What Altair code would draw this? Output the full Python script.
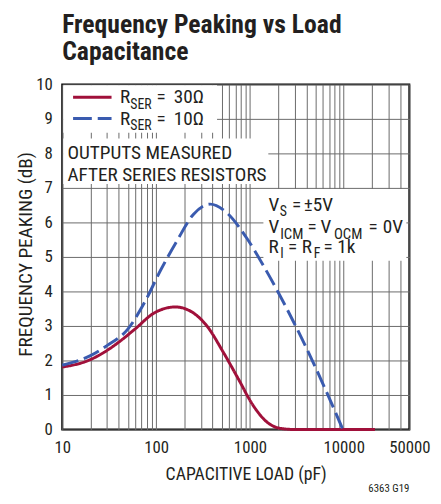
import altair as alt
import pandas as pd

FONT = "Roboto Condensed, DejaVu Sans Condensed, Liberation Sans, sans-serif"
TXT = "#231f20"
RED = "#a0103a"
BLUE = "#3a5baf"

title_lines = ["Frequency Peaking vs Load", "Capacitance"]
x_title = "CAPACITIVE LOAD (pF)"
y_title = "FREQUENCY PEAKING (dB)"

x_label_values = ["10", "100", "1000", "10000", "50000"]
x_grid_values = [10, 20, 30, 40, 50, 60, 70, 80, 90,
                 100, 200, 300, 400, 500, 600, 700, 800, 900,
                 1000, 2000, 3000, 4000, 5000, 6000, 7000, 8000, 9000,
                 10000, 20000, 30000, 40000, 50000]
y_values = [0, 1, 2, 3, 4, 5, 6, 7, 8, 9, 10]

series_names = ["RSER = 30Ω", "RSER = 10Ω"]

cap_30 = [10, 19, 30, 40, 59, 96, 161, 232, 348, 520, 748, 1075, 1482, 2048, 3000, 21500]
pk_30 = [1.81, 2.0, 2.29, 2.53, 2.9, 3.38, 3.55, 3.43, 3.0, 2.24, 1.48, 0.71, 0.24, 0.04, 0.0, 0.0]

cap_10 = [10, 20, 30, 50, 75, 112, 168, 251, 377, 562, 912, 1482, 2400, 3890, 6310, 9790]
pk_10 = [1.86, 2.14, 2.43, 2.91, 3.67, 4.62, 5.48, 6.24, 6.53, 6.29, 5.57, 4.62, 3.57, 2.43, 1.19, 0.0]

df = pd.concat([
    pd.DataFrame({"cap": cap_30, "pk": pk_30, "series": series_names[0]}),
    pd.DataFrame({"cap": cap_10, "pk": pk_10, "series": series_names[1]}),
])
one = pd.DataFrame({"k": [0]})

label_expr = "indexof(" + str(x_label_values) + ", datum.label) >= 0 ? datum.label : ''"

x_axis = alt.Axis(values=x_grid_values, format="d", labelExpr=label_expr,
                  grid=True, gridColor="#6a6a6a", gridWidth=1, ticks=False, domain=False,
                  labelPadding=10, labelFont=FONT, labelFontSize=17, labelColor=TXT,
                  labelOverlap=False, labelFlush=False, labelBound=False,
                  title=x_title, titleFont=FONT, titleFontSize=18, titleFontWeight="normal",
                  titleColor=TXT, titleX=186, titleY=51, titleBaseline="alphabetic",
                  titleAlign="center")
y_axis = alt.Axis(values=y_values, format="d",
                  grid=True, gridColor="#6a6a6a", gridWidth=1, ticks=False, domain=False,
                  labelPadding=10, labelFont=FONT, labelFontSize=17, labelColor=TXT,
                  title=y_title, titleFont=FONT, titleFontSize=19.5, titleFontWeight="normal",
                  titleColor=TXT, titleX=-31, titleY=172, titleAngle=-90,
                  titleAlign="center", titleBaseline="alphabetic")

lines = alt.Chart(df).mark_line(strokeWidth=3, interpolate="monotone").encode(
    x=alt.X("cap:Q", scale=alt.Scale(type="log", domain=[10, 50000], nice=False), axis=x_axis),
    y=alt.Y("pk:Q", scale=alt.Scale(domain=[0, 10], nice=False), axis=y_axis),
    color=alt.Color("series:N", scale=alt.Scale(domain=series_names, range=[RED, BLUE]), legend=None),
    strokeDash=alt.StrokeDash("series:N", scale=alt.Scale(domain=series_names, range=[[1, 0], [17, 6]]), legend=None),
)


def box(x1, x2, y1, y2):
    return alt.Chart(one).mark_rect(fill="white", stroke=None).encode(
        x=alt.value(x1), x2=alt.value(x2), y=alt.value(y1), y2=alt.value(y2))


MAIN = 19.5
SUB = 14


def txt(s, x, y, size=MAIN, align="left"):
    return alt.Chart(one).mark_text(text=s, align=align, baseline="alphabetic", font=FONT,
                                    fontSize=size, color=TXT).encode(x=alt.value(x), y=alt.value(y))


def sample(y, color, dash):
    return alt.Chart(one).mark_rule(color=color, strokeWidth=3, strokeDash=dash).encode(
        x=alt.value(11), x2=alt.value(50), y=alt.value(y))


boxes = [box(1, 157, 1, 49), box(1, 209, 55, 101), box(204, 349, 106, 179)]

annos = [
    sample(13, RED, [1, 0]), sample(34.7, BLUE, [19, 6]),
    txt("R", 58.7, 18.7), txt("SER", 69, 24.7, SUB), txt("=", 95.5, 18.7), txt("30Ω", 113, 18.7),
    txt("R", 58.7, 40.7), txt("SER", 69, 46.7, SUB), txt("=", 95.5, 40.7), txt("10Ω", 113, 40.7),
    txt("OUTPUTS MEASURED", 5.3, 75.3), txt("AFTER SERIES RESISTORS", 5.3, 98),
    # V_S = ±5V
    txt("V", 209.3, 128), txt("S", 220.5, 133.5, SUB), txt("=", 233, 128), txt("±5V", 245, 128),
    # V_ICM = V_OCM = 0V
    txt("V", 209.3, 151), txt("ICM", 221, 156.5, 15), txt("=", 248.7, 151),
    txt("V", 262, 151), txt("OCM", 275.5, 156.5, 15), txt("=", 310.5, 151), txt("0V", 325, 151),
    # R_I = R_F = 1k
    txt("R", 209.3, 171), txt("I", 221, 176.5, SUB), txt("=", 229, 171),
    txt("R", 243, 171), txt("F", 255, 176.5, SUB), txt("=", 265, 171), txt("1k", 279, 171),
    txt("6363 G19", 352, 413, 11, "right"),
]

chart = alt.layer(*boxes, lines, *annos).properties(
    width=352, height=350,
    title=alt.TitleParams(text=title_lines, anchor="start", frame="group", font=FONT, fontSize=26,
                          fontWeight="bold", color=TXT, lineHeight=27.5, baseline="bottom",
                          offset=17, dy=32),
    padding={"left": 55, "top": 74, "right": 24, "bottom": 64},
    autosize=alt.AutoSizeParams(type="none"),
).configure_view(stroke="black", strokeWidth=2)

chart.save("out.html", embed_options={"renderer": "svg", "actions": False})
